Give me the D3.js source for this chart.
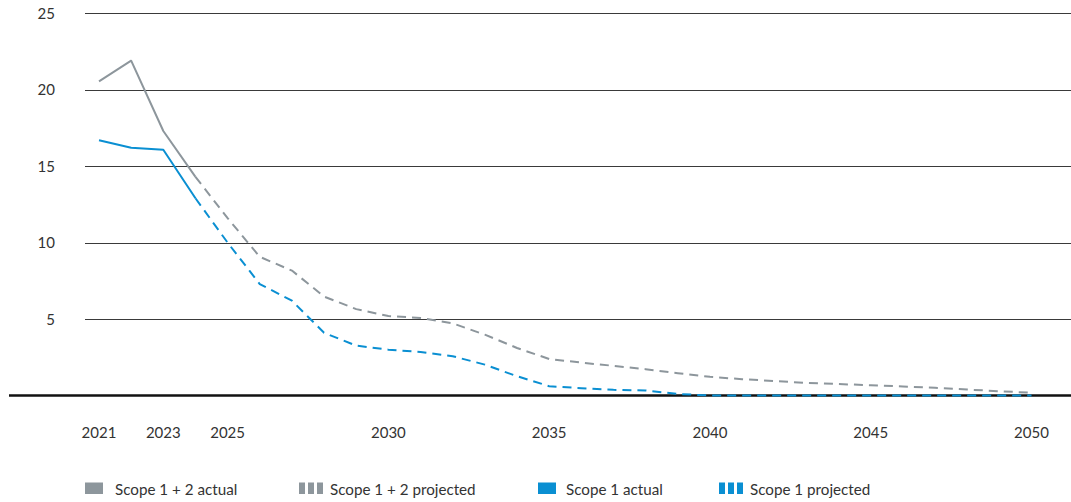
<!DOCTYPE html>
<html>
<head>
<meta charset="utf-8">
<script src="https://cdn.jsdelivr.net/npm/d3@7"></script>
<style>
  html, body { margin: 0; padding: 0; background: #fff; }
  svg text { font-family: Lato, "Open Sans", sans-serif; fill: #333; }
</style>
</head>
<body>
<svg id="chart" width="1071" height="502"></svg>
<script>
// Emissions pathway, 2021–2050
const yearsActual = [2021, 2022, 2023, 2024];
const scope12Actual = [20.55, 21.9, 17.3, 14.3];
const scope1Actual = [16.7, 16.2, 16.07, 12.9];

const yearsProjected = d3.range(2024, 2051);
const scope12Projected = [14.3, 11.6, 9.07, 8.17, 6.47, 5.65, 5.2, 5.07, 4.72, 3.98, 3.11, 2.39, 2.15, 1.94, 1.72, 1.46, 1.22, 1.07, 0.95, 0.82, 0.75, 0.67, 0.59, 0.5, 0.39, 0.28, 0.18];
const scope1Projected = [12.9, 10.0, 7.29, 6.2, 4.1, 3.26, 3.0, 2.85, 2.57, 2.02, 1.26, 0.61, 0.48, 0.37, 0.33, 0.1, 0, 0, 0, 0, 0, 0, 0, 0, 0, 0, 0];

const xTicks = [2021, 2023, 2025, 2030, 2035, 2040, 2045, 2050];
const yTicks = [5, 10, 15, 20, 25];

const legendItems = [
  { label: "Scope 1 + 2 actual", color: "#8d969c", dashed: false },
  { label: "Scope 1 + 2 projected", color: "#8d969c", dashed: true },
  { label: "Scope 1 actual", color: "#0a8fd2", dashed: false },
  { label: "Scope 1 projected", color: "#0a8fd2", dashed: true }
];

const GREY = "#8d969c", BLUE = "#0a8fd2";

const svg = d3.select("#chart");
const x = d3.scaleLinear().domain([2021, 2050]).range([99, 1031.5]);
const y = d3.scaleLinear().domain([0, 25]).range([395.5, 13.3]);

// Horizontal gridlines
const grid = svg.append("g");
grid.selectAll("line").data(yTicks).join("line")
  .attr("x1", 85).attr("x2", 1071)
  .attr("y1", d => Math.round(y(d)) + 0.5).attr("y2", d => Math.round(y(d)) + 0.5)
  .attr("stroke", "#3a3a3a").attr("stroke-width", 1);

// Y tick labels
svg.append("g").selectAll("text").data(yTicks).join("text")
  .attr("x", 55).attr("y", d => y(d) + 5.5)
  .attr("text-anchor", "end").attr("font-size", 15)
  .text(d => d);

// X tick labels
svg.append("g").selectAll("text").data(xTicks).join("text")
  .attr("x", d => x(d)).attr("y", 437.5)
  .attr("text-anchor", "middle").attr("font-size", 15)
  .text(d => d);

// Zero baseline
svg.append("line")
  .attr("x1", 9).attr("x2", 1071)
  .attr("y1", y(0)).attr("y2", y(0))
  .attr("stroke", "#111").attr("stroke-width", 2.5);

const line = d3.line().x(d => x(d[0])).y(d => y(d[1]));

function drawSeries(years, values, color, dashed) {
  svg.append("path")
    .datum(years.map((yr, i) => [yr, values[i]]))
    .attr("d", line)
    .attr("fill", "none")
    .attr("stroke", color)
    .attr("stroke-width", 2)
    .attr("stroke-linejoin", "round")
    .attr("stroke-dasharray", dashed ? "9,6" : null);
}

drawSeries(yearsProjected, scope12Projected, GREY, true);
drawSeries(yearsActual, scope12Actual, GREY, false);
drawSeries(yearsProjected, scope1Projected, BLUE, true);
drawSeries(yearsActual, scope1Actual, BLUE, false);

// Legend
const legendX = [85, 299, 538, 719];
const legendTextX = [115, 330, 566, 750];
const lg = svg.append("g");
legendItems.forEach((item, i) => {
  const g = lg.append("g").attr("transform", `translate(${legendX[i]},482.5)`);
  if (item.dashed) {
    [0, 9, 18].forEach(o => g.append("rect")
      .attr("x", o).attr("y", 0).attr("width", 6).attr("height", 11.5)
      .attr("fill", item.color));
  } else {
    g.append("rect").attr("x", 0).attr("y", 0).attr("width", 18).attr("height", 11.5)
      .attr("fill", item.color);
  }
  lg.append("text")
    .attr("x", legendTextX[i]).attr("y", 495)
    .attr("font-size", 15.2)
    .text(item.label);
});
</script>
</body>
</html>
